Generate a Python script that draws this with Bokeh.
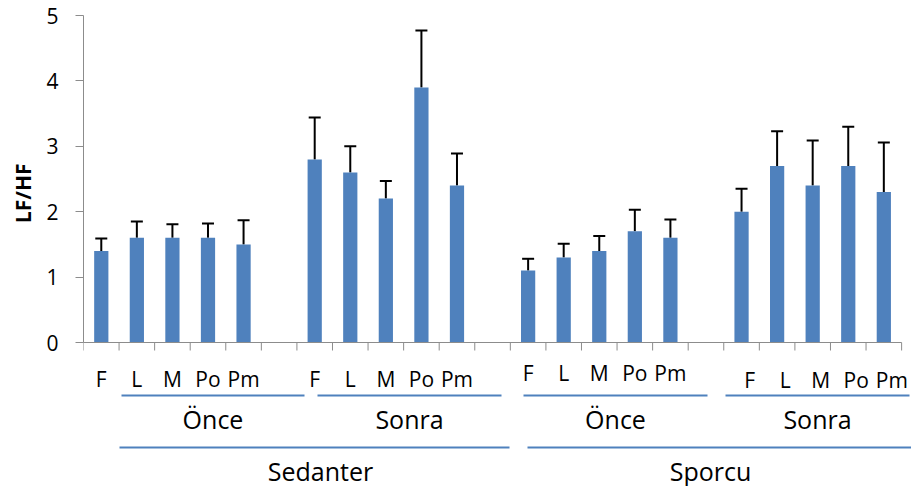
import numpy as np
from bokeh.plotting import figure
from bokeh.models import Range1d, FixedTicker, ColumnDataSource, Whisker, TeeHead, Title
from bokeh.core.properties import value
from bokeh.embed import file_html
from bokeh.resources import INLINE

# ---- data ----
subcats = ["F", "L", "M", "Po", "Pm"]
periods = ["Önce", "Sonra", "Önce", "Sonra"]
groups = ["Sedanter", "Sporcu"]
sed_once = [1.4, 1.6, 1.6, 1.6, 1.5]
sed_once_err = [0.19, 0.25, 0.21, 0.22, 0.37]
sed_sonra = [2.8, 2.6, 2.2, 3.9, 2.4]
sed_sonra_err = [0.64, 0.40, 0.27, 0.87, 0.49]
spo_once = [1.1, 1.3, 1.4, 1.7, 1.6]
spo_once_err = [0.18, 0.21, 0.23, 0.33, 0.28]
spo_sonra = [2.0, 2.7, 2.4, 2.7, 2.3]
spo_sonra_err = [0.35, 0.53, 0.69, 0.60, 0.76]
y_ticks = [0, 1, 2, 3, 4, 5]

series = [sed_once, sed_sonra, spo_once, spo_sonra]
errs = [sed_once_err, sed_sonra_err, spo_once_err, spo_sonra_err]

# ---- layout constants ----
W, H = 911, 486
LEFT = 83
PX_SLOT = 35.57
PX_UNIT = 65.4
ZERO_PAGE_Y = 342  # page y of value 0
TOP_PAGE_Y = 0

def py(page_y):
    return (ZERO_PAGE_Y - page_y) / PX_UNIT

def px(page_x):
    return (page_x - 83) / PX_SLOT - 0.5

y_top = py(TOP_PAGE_Y)
y_bot = py(TOP_PAGE_Y + H)
x_end = -0.5 + (W - LEFT) / PX_SLOT

BLUE = "#4F81BD"
GREY = "#8C8C8C"
FONT = "Open Sans"

xs, ys, ups, labs = [], [], [], []
for g, (vals, ers) in enumerate(zip(series, errs)):
    for i, (v, e) in enumerate(zip(vals, ers)):
        xs.append(g * 6 + i)
        ys.append(v)
        ups.append(v + e)
        labs.append(subcats[i])
src = ColumnDataSource(dict(x=xs, y=ys, upper=ups, lab=labs))

p = figure(width=W, height=H, output_backend="svg", toolbar_location=None,
           x_range=Range1d(-0.5, x_end), y_range=Range1d(y_bot, y_top),
           x_axis_location=None, min_border_left=LEFT, min_border_right=0,
           min_border_top=0, min_border_bottom=0)
p.outline_line_color = None
p.grid.visible = False
p.background_fill_color = "white"

yax = p.yaxis[0]
yax.ticker = FixedTicker(ticks=y_ticks)
yax.bounds = (0, 5)
yax.axis_line_color = GREY
yax.major_tick_line_color = GREY
yax.major_tick_out = 8
yax.major_tick_in = 0
yax.minor_tick_line_color = None
yax.major_label_text_font = FONT
yax.major_label_text_font_size = "21px"
yax.major_label_text_color = "black"
yax.major_label_standoff = 17

# y-axis title as a side title so it can sit where the reference has it
p.add_layout(Title(text="LF/HF", align="right", offset=163, vertical_align="top",
                   text_font=FONT, text_font_size="21px", text_font_style="bold",
                   text_color="black", standoff=10), "left")

# bars
p.vbar(x="x", top="y", bottom=0, width=0.4, source=src, fill_color=BLUE, line_color=None)
# error bars
wh = Whisker(source=src, base="x", upper="upper", lower="y",
             upper_head=TeeHead(size=12, line_width=2, line_color="black"),
             lower_head=None, line_width=2, line_color="black")
p.add_layout(wh)

# x axis line and ticks
nb = 6 * 4 - 1
bounds = [k - 0.5 for k in range(nb + 1)]
tick_len = 8 / PX_UNIT
p.segment(x0=[-0.5 - 8 / PX_SLOT], y0=[0], x1=[nb - 0.5], y1=[0], line_color=GREY, line_width=1)
p.segment(x0=bounds, y0=[0] * len(bounds), x1=bounds, y1=[-tick_len] * len(bounds),
          line_color=GREY, line_width=1)

# level-1 labels
x_off = [0, 0, 0, 8]
y_page = [378, 378, 372, 379]
for g in range(4):
    gx = [g * 6 + i for i in range(5)]
    p.text(x=gx, y=[py(y_page[g])] * 5, text=subcats, x_offset=x_off[g],
           text_align="center", text_baseline="middle",
           text_font=value(FONT), text_font_size="21px", text_color="black")

# level-2 lines and labels
l2 = [(121, 304), (317, 501), (523, 707), (725, 909)]
for (a, b), name in zip(l2, periods):
    p.segment(x0=[px(a)], y0=[py(395)], x1=[px(b)], y1=[py(395)], line_color=BLUE, line_width=2)
    p.text(x=[(px(a) + px(b)) / 2], y=[py(418)], text=[name], text_align="center",
           text_baseline="middle", text_font=value(FONT), text_font_size="25px", text_color="black")

# level-3 lines and labels
l3 = [(119, 509, 320), (527, 912, 710)]
for (a, b, c), name in zip(l3, groups):
    p.segment(x0=[px(a)], y0=[py(447)], x1=[px(b)], y1=[py(447)], line_color=BLUE, line_width=2)
    p.text(x=[px(c)], y=[py(470)], text=[name], text_align="center",
           text_baseline="middle", text_font=value(FONT), text_font_size="25px", text_color="black")

open("out.html", "w").write(file_html(p, INLINE))
